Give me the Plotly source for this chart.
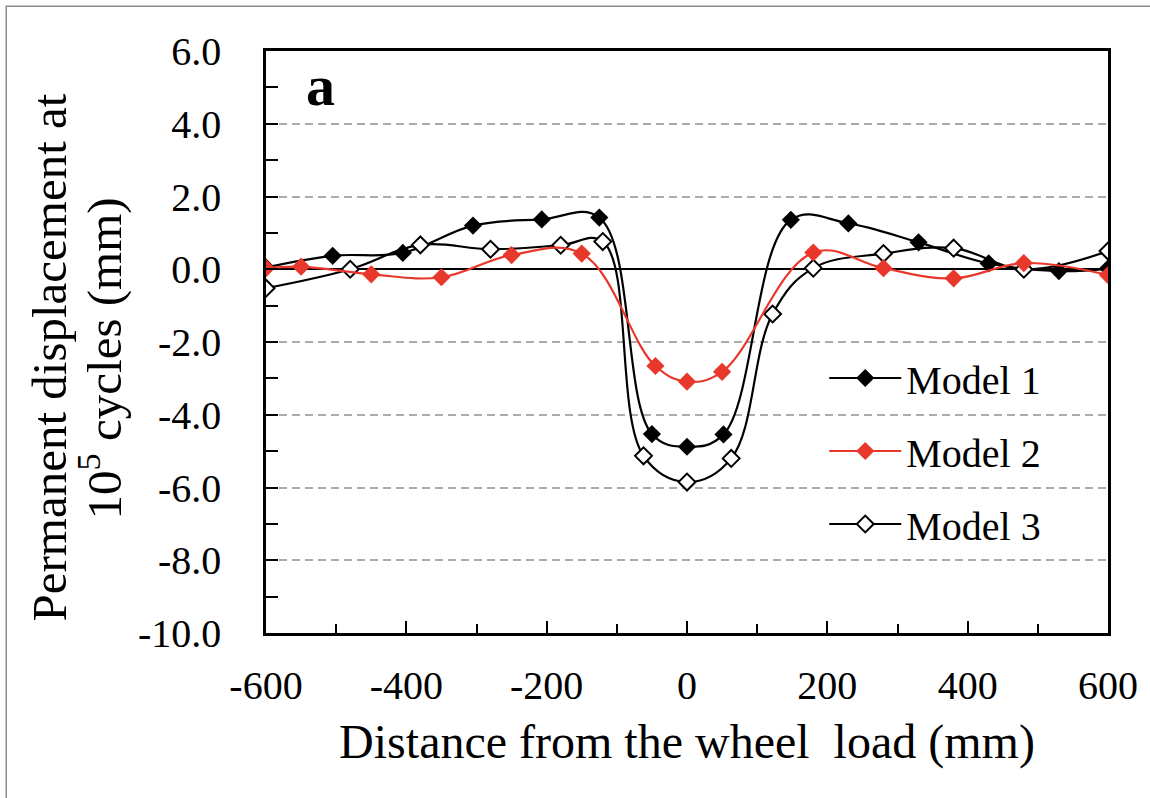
import plotly.graph_objects as go

# ---- data ----
m1_x = [-600, -505, -405, -305, -207, -125, -50, 0, 52, 148, 230, 330, 430, 530, 600]
m1_y = [0.05, 0.37, 0.45, 1.20, 1.37, 1.42, -4.53, -4.88, -4.54, 1.36, 1.26, 0.74, 0.16, -0.05, 0.02]

m2_x = [-600, -550, -450, -350, -250, -150, -45, 0, 50, 180, 280, 380, 480, 600]
m2_y = [0.03, 0.07, -0.14, -0.22, 0.39, 0.43, -2.66, -3.09, -2.82, 0.46, 0.03, -0.25, 0.17, -0.16]

m3_x = [-600, -480, -380, -280, -180, -120, -62, 0, 63, 122, 180, 280, 380, 480, 600]
m3_y = [-0.52, 0.0, 0.67, 0.55, 0.66, 0.76, -5.13, -5.85, -5.2, -1.23, 0.03, 0.43, 0.58, 0.0, 0.5]

x_ticks = [-600, -400, -200, 0, 200, 400, 600]
x_tick_labels = ["-600", "-400", "-200", "0", "200", "400", "600"]
y_ticks = [6, 4, 2, 0, -2, -4, -6, -8, -10]
y_tick_labels = ["6.0", "4.0", "2.0", "0.0", "-2.0", "-4.0", "-6.0", "-8.0", "-10.0"]

RED = "#E8372B"
FONT = "Liberation Serif"

fig = go.Figure()

fig.add_trace(go.Scatter(
    x=m1_x, y=m1_y, name="Model 1", mode="lines+markers",
    line=dict(color="black", width=2.2, shape="spline", smoothing=1.1),
    marker=dict(symbol="diamond", size=14, color="black", line=dict(width=0)),
    legendrank=1, legendgroup="g1"))

fig.add_trace(go.Scatter(
    x=m3_x, y=m3_y, name="Model 3", mode="lines+markers",
    line=dict(color="black", width=2.2, shape="spline", smoothing=1.1),
    marker=dict(symbol="diamond", size=13, color="white", line=dict(width=2, color="black")),
    legendrank=3, legendgroup="g3"))

fig.add_trace(go.Scatter(
    x=m2_x, y=m2_y, name="Model 2", mode="lines+markers",
    line=dict(color=RED, width=2.2, shape="spline", smoothing=1.1),
    marker=dict(symbol="diamond", size=14, color=RED, line=dict(width=0)),
    legendrank=2, legendgroup="g2"))

fig.update_layout(
    width=1150, height=798,
    margin=dict(l=266, r=40, t=51, b=165),
    plot_bgcolor="white", paper_bgcolor="white",
    font=dict(family=FONT, color="black"),
    showlegend=True,
    legend=dict(
        x=0.663, y=0.494, xanchor="left", yanchor="top",
        bgcolor="rgba(0,0,0,0)", borderwidth=0,
        font=dict(family=FONT, size=40, color="black"),
        itemwidth=72, traceorder="grouped", tracegroupgap=18,
    ),
    xaxis=dict(
        range=[-600, 600], tickmode="array", tickvals=x_ticks, ticktext=x_tick_labels,
        ticks="inside", ticklen=12, tickwidth=2, tickcolor="black",
        showline=True, linecolor="black", linewidth=2.5, mirror=True,
        showgrid=False, zeroline=False,
        minor=dict(ticks="inside", dtick=100, tick0=0, ticklen=9, tickwidth=2, tickcolor="black", showgrid=False),
        tickfont=dict(family=FONT, size=40, color="black"),
        ticklabelstandoff=15,
        title=dict(text="Distance from the wheel  load (mm)", font=dict(family=FONT, size=48, color="black"), standoff=18),
    ),
    yaxis=dict(
        range=[-10, 6], tickmode="array", tickvals=y_ticks, ticktext=y_tick_labels,
        ticks="inside", ticklen=12, tickwidth=2, tickcolor="black",
        showline=True, linecolor="black", linewidth=2.5, mirror=True,
        showgrid=True, gridcolor="#ababab", gridwidth=2, griddash="8px,5px",
        zeroline=True, zerolinecolor="black", zerolinewidth=2,
        minor=dict(ticks="inside", dtick=1, tick0=0, ticklen=12, tickwidth=2, tickcolor="black", showgrid=False),
        tickfont=dict(family=FONT, size=40, color="black"),
        ticklabelstandoff=34,
    ),
    annotations=[
        dict(text="<b>a</b>", x=0.065, y=0.94, xref="paper", yref="paper",
             xanchor="center", yanchor="middle", showarrow=False,
             font=dict(family=FONT, size=58, color="black")),
        dict(text="Permanent displacement at",
             x=-0.2583, y=0.4725, xref="paper", yref="paper", textangle=-90,
             xanchor="center", yanchor="middle", showarrow=False,
             font=dict(family=FONT, size=49, color="black")),
        dict(text="10<sup>5</sup> cycles (mm)",
             x=-0.1967, y=0.4725, xref="paper", yref="paper", textangle=-90,
             xanchor="center", yanchor="middle", showarrow=False,
             font=dict(family=FONT, size=49, color="black")),
    ],
    shapes=[dict(
        type="rect", xref="paper", yref="paper",
        x0=-0.3085, y0=-0.30, x1=1.07, y1=1.077,
        line=dict(color="#8c8c8c", width=1.5), fillcolor="rgba(0,0,0,0)", layer="below")],
)

fig.write_html("out.html")
